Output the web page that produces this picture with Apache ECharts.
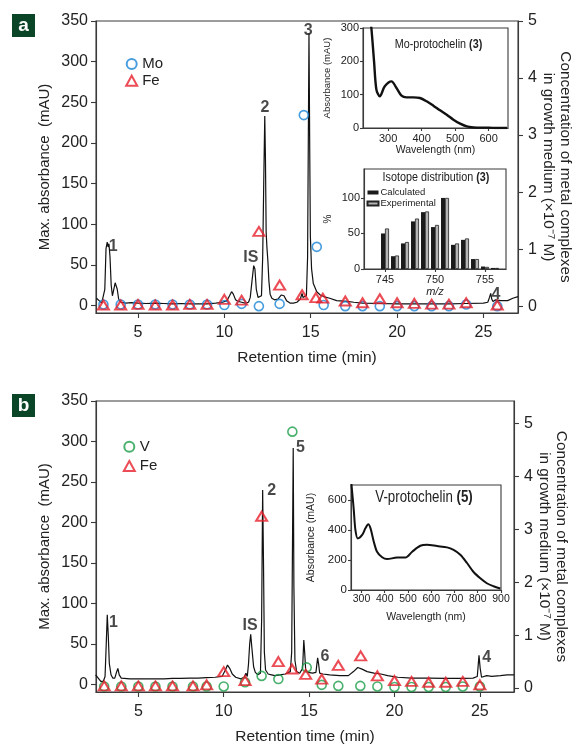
<!DOCTYPE html>
<html><head><meta charset="utf-8">
<script src="https://cdn.jsdelivr.net/npm/echarts@6/dist/echarts.min.js"></script>
<style>html,body{margin:0;padding:0;background:#fff}#c{width:588px;height:746px}</style>
</head><body><div id="c"></div>
<script>
// ---------- DATA ----------
const timeTicks = [5, 10, 15, 20, 25];
const absTicks = [0, 50, 100, 150, 200, 250, 300, 350];
const concTicks = [0, 1, 2, 3, 4, 5];

// Panel a chromatogram [time (min), max absorbance (mAU)]
const chromA = [[2.6,9],[2.75,6],[2.9,3],[3.0,4],[3.08,20],[3.15,70],[3.22,78],[3.27,72],[3.32,76],[3.38,60],[3.45,25],[3.52,12],[3.6,14],[3.68,28],[3.74,30],[3.8,20],[3.88,8],[4.0,4],[4.3,3],[4.6,3.5],[5.0,3],[5.5,2.5],[6.0,3],[6.5,2.5],[7.0,2],[7.5,2.5],[8.0,2],[8.5,2],[9.0,2],[9.5,3],[9.9,4],[10.15,6],[10.3,12],[10.42,17],[10.52,14],[10.65,7],[10.8,5],[11.0,4],[11.2,3],[11.4,4],[11.5,10],[11.6,30],[11.7,49],[11.77,45],[11.85,20],[11.95,10],[12.05,8],[12.15,12],[12.22,60],[12.28,150],[12.34,233],[12.38,180],[12.42,90],[12.47,70],[12.52,55],[12.58,30],[12.65,14],[12.75,9],[12.9,7],[13.1,8],[13.3,13],[13.45,12],[13.6,6],[13.8,3],[14.0,3],[14.2,4],[14.4,8],[14.5,15],[14.55,10],[14.65,8],[14.75,12],[14.82,60],[14.86,200],[14.9,335],[14.94,200],[14.98,85],[15.05,45],[15.15,27],[15.35,17],[15.55,13],[15.75,11],[16.1,9],[16.5,6],[17.1,5],[17.5,4],[18,3],[19,2.5],[20,2],[21,2],[22,2],[23,2],[24,2.5],[25,3],[25.25,4],[25.35,10],[25.42,15],[25.48,8],[25.55,5],[25.7,7],[26,6],[26.4,6],[26.7,9],[27,11]];

const moTime = [3,4,5,6,7,8,9,10,11,12,13.2,14.6,15.35,15.75,17,18,19,20,21,22,23,24,25.8];
const moConc = [0.03,0.03,0.03,0.03,0.03,0.03,0.03,0.02,0.04,0,0.04,3.35,1.04,0.02,0,0,0,0,0,0,0,0.03,0];
const feATime = [3,4,5,6,7,8,9,10,11,12,13.2,14.5,15.3,15.7,17,18,19,20,21,22,23,24,25.8];
const feAConc = [0.02,0.02,0.03,0.02,0.02,0.03,0.03,0.12,0.105,1.31,0.37,0.2,0.15,0.14,0.09,0.06,0.13,0.06,0.05,0.035,0.035,0.06,0.02];

const peakNamesA = ['1','IS','2','3','4'];
const peakTimeA = [3.57, 11.53, 12.35, 14.86, 25.73];
const peakAbsA = [73, 59, 244, 338, 14];

// Mo-protochelin UV-vis inset
const moWl = [245,250,258,265,275,290,310,325,340,355,375,395,415,435,455,475,495,515,535,555,575,600,625,655];
const moAbs = [340,300,200,115,95,125,140,120,97,92,92,90,80,67,53,40,25,13,5,2,1,1,0,0];

// Isotope distribution inset
const mz = [745,746,747,748,749,750,751,752,753,754,755,756];
const calcPct = [50,18,36,67,80,59,100,34,41,14,3.5,1.5];
const exptPct = [57,19,38,71,81,62,100,36,43,14,3,1.5];

// Panel b chromatogram
const chromB = [[2.5,12],[2.65,8],[2.8,4],[2.95,4],[3.05,10],[3.12,50],[3.18,86],[3.24,60],[3.3,26],[3.4,12],[3.5,8],[3.62,8],[3.72,15],[3.8,20],[3.88,12],[4.0,8],[4.5,7],[5,7],[5.5,7],[6,7],[6.5,7],[7,7.5],[7.5,7.5],[8,8],[8.5,8],[9,8.5],[9.5,9],[9.9,10],[10.1,18],[10.22,24],[10.35,20],[10.5,13],[10.7,9],[11.0,7],[11.2,9],[11.3,14],[11.38,10],[11.45,25],[11.52,50],[11.58,62],[11.65,45],[11.75,22],[11.85,15],[12.0,12],[12.15,14],[12.22,80],[12.28,240],[12.33,150],[12.38,40],[12.45,18],[12.6,13],[12.8,12],[13.0,11],[13.3,12],[13.6,13],[13.9,16],[13.98,40],[14.03,180],[14.07,292],[14.11,120],[14.17,30],[14.27,16],[14.45,14],[14.62,20],[14.69,55],[14.74,40],[14.8,18],[14.95,15],[15.2,14],[15.4,15],[15.5,33],[15.56,25],[15.62,14],[15.8,13],[16.2,12],[16.8,11],[17.3,11],[17.6,16],[17.85,21],[18.1,19],[18.4,16],[18.8,14],[19.2,13],[19.6,11],[20.2,9],[21,8],[22,8],[23,7.5],[24,7.5],[24.6,8],[24.85,10],[24.95,36],[25.02,20],[25.1,9],[25.4,11],[25.7,10],[26.2,11],[26.6,12],[27,12]];

const vTime = [3,4,5,6,7,8.2,9,10,11.25,12.22,13.2,14.02,14.86,15.74,16.71,18,19,20,21,22,23,24,25];
const vConc = [0.03,0.03,0.03,0.03,0.03,0.03,0.03,0.03,0.11,0.23,0.17,4.85,0.39,0.06,0.04,0.04,0.03,0.02,0.02,0.02,0.02,0.03,0.03];
const feBTime = [3,4,5,6,7,8.2,9,10,11.25,12.22,13.2,14.0,14.8,15.74,16.71,18.02,19,20,21,22,23,24,25];
const feBConc = [0.04,0.04,0.04,0.04,0.04,0.04,0.06,0.31,0.14,3.25,0.5,0.36,0.26,0.17,0.43,0.61,0.23,0.14,0.125,0.11,0.11,0.125,0.06];

const peakNamesB = ['1','IS','2','5','6','4'];
const peakTimeB = [3.54, 11.54, 12.81, 14.5, 15.93, 25.4];
const peakAbsB = [76, 73, 240, 293, 35, 33];

// V-protochelin UV-vis inset
const vWl = [256,262,267,274,284,303,317,329,339,353,367,389,410,453,489,518,553,582,625,668,696,725,754,782,811,839,868,897];
const vAbs = [720,620,533,400,344,367,411,438,411,322,255,218,206,216,216,255,295,302,293,284,267,235,180,120,78,45,25,10];

const uvTicksA = [300,400,500,600];
const uvTicksB = [300,400,500,600,700,800,900];
const uvAbsTicksA = [0,100,200,300];
const uvAbsTicksB = [0,200,400,600];
const isoTicksX = [745,750,755];
const isoTicksY = [0,50,100];

// ---------- STYLE ----------
const FONT = '"Liberation Sans", Arial, sans-serif';
const AX = '#3a3a3a';
const BLUE = '#1a84d6', RED = '#e61f2b', GREEN = '#1c9d48';

const pairs = (xs, ys) => xs.map((x, i) => [x, ys[i]]);

function axisBase(gi, min, max, ticks, fs, margin, tickLen) {
  return {
    gridIndex: gi, type: 'value', min, max, nameMoveOverlap: false,
    axisLine: {show: true, onZero: false, lineStyle: {color: AX, width: 1.1}},
    axisTick: {show: true, length: tickLen, customValues: ticks, lineStyle: {color: AX, width: 1.1}},
    axisLabel: {customValues: ticks, fontSize: fs, color: '#222', margin, fontFamily: FONT},
    splitLine: {show: false}
  };
}
const nameStyle = (fs, extra) => Object.assign({fontSize: fs, color: '#222', fontFamily: FONT}, extra || {});

const grids = [
  {left: 96, top: 21, width: 422, height: 292},
  {left: 363, top: 28, width: 145, height: 100},
  {left: 364, top: 169, width: 142, height: 100},
  {left: 96, top: 401, width: 418, height: 293},
  {left: 351, top: 485, width: 150, height: 105}
].map(g => Object.assign({show: true, borderColor: AX, borderWidth: 1.1, backgroundColor: 'rgba(0,0,0,0)'}, g));

const xAxes = [
  Object.assign(axisBase(0, 2.57, 27, timeTicks, 16, 12, 5), {name: 'Retention time (min)', nameLocation: 'middle', nameGap: 37, nameTextStyle: nameStyle(15.5)}),
  Object.assign(axisBase(1, 225, 658, uvTicksA, 11, 5, 3), {name: 'Wavelength (nm)', nameLocation: 'middle', nameGap: 17, nameTextStyle: nameStyle(10.5)}),
  Object.assign(axisBase(2, 742.9, 757.1, isoTicksX, 11, 5, 3), {name: 'm/z', nameLocation: 'middle', nameGap: 17, nameTextStyle: nameStyle(11, {fontStyle: 'italic'})}),
  Object.assign(axisBase(3, 2.52, 27, timeTicks, 16, 12, 5), {name: 'Retention time (min)', nameLocation: 'middle', nameGap: 37, nameTextStyle: nameStyle(15.5)}),
  Object.assign(axisBase(4, 255, 900, uvTicksB, 10.5, 4, 3), {name: 'Wavelength (nm)', nameLocation: 'middle', nameGap: 22, nameTextStyle: nameStyle(10.5)})
];

const rightName = 'Concentration of metal complexes\nin growth medium (\u00d710\u207b\u2077 M)';
const yAxes = [
  Object.assign(axisBase(0, -9.2, 350, absTicks, 16, 8, 5), {name: 'Max. absorbance  (mAU)', nameLocation: 'middle', nameGap: 44, nameTextStyle: nameStyle(15)}),
  Object.assign(axisBase(0, -0.12, 5, concTicks, 16, 10, 5), {position: 'right', name: rightName, nameLocation: 'middle', nameRotate: -90, nameGap: 22, nameTextStyle: nameStyle(15.3, {lineHeight: 17})}),
  Object.assign(axisBase(1, 0, 300, uvAbsTicksA, 11, 4, 3), {name: 'Absorbance (mAU)', nameLocation: 'middle', nameGap: 31, nameTextStyle: nameStyle(9.5)}),
  Object.assign(axisBase(2, 0, 140.7, isoTicksY, 11, 4, 3), {name: '%', nameLocation: 'middle', nameGap: 31, nameTextStyle: nameStyle(10)}),
  Object.assign(axisBase(3, -9.2, 350, absTicks, 16, 8, 5), {name: 'Max. absorbance  (mAU)', nameLocation: 'middle', nameGap: 44, nameTextStyle: nameStyle(15)}),
  Object.assign(axisBase(3, -0.075, 5.43, concTicks, 16, 10, 5), {position: 'right', name: rightName, nameLocation: 'middle', nameRotate: -90, nameGap: 22, nameTextStyle: nameStyle(15.3, {lineHeight: 17})}),
  Object.assign(axisBase(4, 0, 700, uvAbsTicksB, 11.5, 4, 3), {name: 'Absorbance (mAU)', nameLocation: 'middle', nameGap: 34, nameTextStyle: nameStyle(10.5)})
];

const circle = (name, c, xs, ys, xi, yi) => ({
  name, type: 'scatter', xAxisIndex: xi, yAxisIndex: yi, symbol: 'circle', symbolSize: 9,
  itemStyle: {color: 'rgba(255,255,255,0)', borderColor: c, borderWidth: 1.6}, data: pairs(xs, ys), z: 4
});
const tri = (name, xs, ys, xi, yi) => ({
  name, type: 'scatter', xAxisIndex: xi, yAxisIndex: yi, symbol: 'triangle', symbolSize: [11, 9],
  itemStyle: {color: 'rgba(255,255,255,0)', borderColor: RED, borderWidth: 2}, data: pairs(xs, ys), z: 5
});
const peakLabels = (names, ts, vs, xi, yi) => ({
  type: 'scatter', xAxisIndex: xi, yAxisIndex: yi, symbolSize: 0, silent: true, z: 6,
  label: {show: true, position: 'inside', formatter: p => p.name, fontSize: 16, fontWeight: 'bold', color: '#1a1a1a', fontFamily: FONT},
  data: names.map((n, i) => ({name: n, value: [ts[i], vs[i]]}))
});

const series = [
  {type: 'line', xAxisIndex: 0, yAxisIndex: 0, data: chromA, showSymbol: false, lineStyle: {color: '#111', width: 1.2}, z: 3},
  circle('Mo', BLUE, moTime, moConc, 0, 1),
  tri('Fe', feATime, feAConc, 0, 1),
  peakLabels(peakNamesA, peakTimeA, peakAbsA, 0, 0),
  {type: 'line', xAxisIndex: 1, yAxisIndex: 2, data: pairs(moWl, moAbs), showSymbol: false, smooth: 0.3, lineStyle: {color: '#111', width: 2.4}},
  {name: 'Calculated', type: 'bar', xAxisIndex: 2, yAxisIndex: 3, data: pairs(mz, calcPct), barWidth: 4, barGap: '0%', itemStyle: {color: '#1b1b1b'}},
  {name: 'Experimental', type: 'bar', xAxisIndex: 2, yAxisIndex: 3, data: pairs(mz, exptPct), barWidth: 4, barGap: '0%', itemStyle: {color: '#b4b4b4', borderColor: '#222', borderWidth: 0.8}},
  {type: 'line', xAxisIndex: 3, yAxisIndex: 4, data: chromB, showSymbol: false, lineStyle: {color: '#111', width: 1.2}, z: 3},
  circle('V', GREEN, vTime, vConc, 3, 5),
  tri('Fe', feBTime, feBConc, 3, 5),
  peakLabels(peakNamesB, peakTimeB, peakAbsB, 3, 4),
  {type: 'line', xAxisIndex: 4, yAxisIndex: 6, data: pairs(vWl, vAbs), showSymbol: false, smooth: 0.3, lineStyle: {color: '#111', width: 2}}
];

const legends = [
  {data: ['Mo', 'Fe'], orient: 'vertical', left: 125.2, top: 56, padding: 0, itemWidth: 11, itemHeight: 10, itemGap: 0.7, selectedMode: false,
   textStyle: {fontSize: 15, lineHeight: 16, color: '#222', fontFamily: FONT}},
  {data: ['V', 'Fe'], orient: 'vertical', left: 122.8, top: 438.7, padding: 0, itemWidth: 11, itemHeight: 10, itemGap: 3.3, selectedMode: false,
   textStyle: {fontSize: 15, lineHeight: 16, color: '#222', fontFamily: FONT}},
  {data: ['Calculated', 'Experimental'], orient: 'vertical', left: 366.5, top: 187, padding: 0, icon: 'rect', itemWidth: 11, itemHeight: 4, itemGap: 0, selectedMode: false,
   textStyle: {fontSize: 9.5, lineHeight: 11, color: '#222', fontFamily: FONT, padding: [0, 0, 0, -3]}}
];

function tag(letter, y) {
  return [
    {type: 'rect', shape: {x: 12, y: y, width: 23, height: 23}, style: {fill: '#0b4527'}},
    {type: 'text', style: {text: letter, x: 23.5, y: y + 11.5, align: 'center', verticalAlign: 'middle', textAlign: 'center', textVerticalAlign: 'middle', font: 'bold 19px "Liberation Sans", Arial, sans-serif', fill: '#fff'}}
  ];
}
function richTitle(name, num, x, y, fs) {
  return {type: 'text', x, y, scaleX: 0.83, scaleY: 1,
    style: {text: '{n|' + name + ' }{b|' + num + '}', x: 0, y: 0, align: 'center', verticalAlign: 'middle', textAlign: 'center', textVerticalAlign: 'middle',
      rich: {n: {fontSize: fs, fontFamily: FONT, fill: '#222', color: '#222'}, b: {fontSize: fs, fontFamily: FONT, fontWeight: 'bold', fill: '#222', color: '#222'}}}};
}

const graphic = [].concat(
  tag('a', 14), tag('b', 394),
  [richTitle('Mo-protochelin', '(3)', 438.5, 44, 13),
   richTitle('Isotope distribution', '(3)', 436, 177, 13),
   richTitle('V-protochelin', '(5)', 424, 498, 16)]
);

const chart = echarts.init(document.getElementById('c'), null, {renderer: 'canvas'});
chart.setOption({
  animation: false,
  textStyle: {fontFamily: FONT},
  grid: grids, xAxis: xAxes, yAxis: yAxes, series, legend: legends, graphic
});
</script></body></html>
